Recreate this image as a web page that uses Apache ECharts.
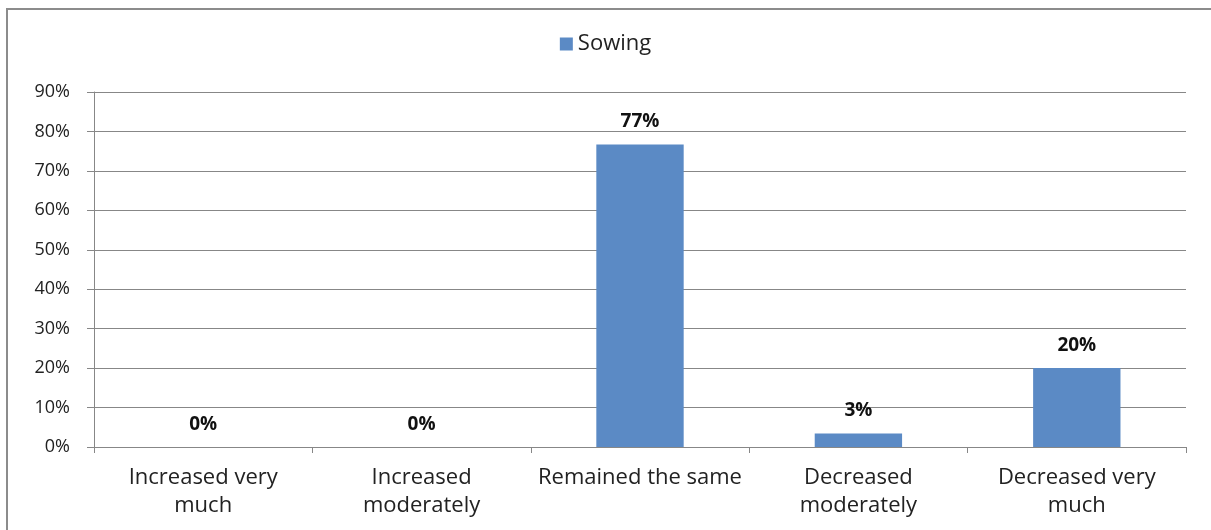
<!DOCTYPE html>
<html>
<head>
<meta charset="utf-8">
<script src="https://cdn.jsdelivr.net/npm/echarts@6/dist/echarts.min.js"></script>
<style>
html,body{margin:0;padding:0;background:#fff;}
#chart{width:1211px;height:530px;}
</style>
</head>
<body>
<div id="chart"></div>
<script>
const categories = ['Increased very\nmuch', 'Increased\nmoderately', 'Remained the same', 'Decreased\nmoderately', 'Decreased very\nmuch'];
const seriesName = 'Sowing';
const sowing = [0, 0, 76.7, 3.4, 20];
const yTicks = [0, 10, 20, 30, 40, 50, 60, 70, 80, 90];

const FONT = '"Open Sans", "Noto Sans", sans-serif';
const chart = echarts.init(document.getElementById('chart'), null, {renderer: 'canvas'});
chart.setOption({
  animation: false,
  backgroundColor: '#fff',
  textStyle: {fontFamily: FONT},
  graphic: [
    {type: 'line', shape: {x1: 6, y1: 9, x2: 1211, y2: 9}, style: {stroke: '#8c8c8c', lineWidth: 2}},
    {type: 'line', shape: {x1: 7, y1: 8, x2: 7, y2: 530}, style: {stroke: '#8c8c8c', lineWidth: 2}}
  ],
  legend: {
    data: [seriesName],
    top: 28,
    left: 'center',
    itemWidth: 13,
    itemHeight: 13,
    itemGap: 7,
    icon: 'rect',
    textStyle: {fontFamily: FONT, fontSize: 22, color: '#222'}
  },
  grid: {left: 94, right: 25, top: 92, bottom: 83, containLabel: false},
  xAxis: {
    type: 'category',
    data: categories,
    axisLine: {lineStyle: {color: '#878787', width: 1}},
    axisTick: {show: true, length: 6, alignWithLabel: false, lineStyle: {color: '#878787'}},
    axisLabel: {fontFamily: FONT, fontSize: 22, color: '#222', lineHeight: 28, margin: 17, interval: 0}
  },
  yAxis: {
    type: 'value',
    min: yTicks[0],
    max: yTicks[yTicks.length - 1],
    interval: 10,
    axisLine: {show: true, lineStyle: {color: '#878787', width: 1}},
    axisTick: {show: true, length: 7, lineStyle: {color: '#878787'}},
    axisLabel: {fontFamily: FONT, fontSize: 18, color: '#222', margin: 24, formatter: v => v + '%'},
    splitLine: {show: true, lineStyle: {color: '#878787', width: 1}}
  },
  series: [{
    name: seriesName,
    type: 'bar',
    data: sowing,
    barWidth: '40%',
    itemStyle: {color: '#5B8AC5'},
    label: {
      show: true,
      position: 'top',
      distance: 13,
      fontFamily: FONT,
      fontSize: 19,
      fontWeight: 'bold',
      color: '#111',
      formatter: p => Math.round(p.value) + '%'
    }
  }]
});
</script>
</body>
</html>
